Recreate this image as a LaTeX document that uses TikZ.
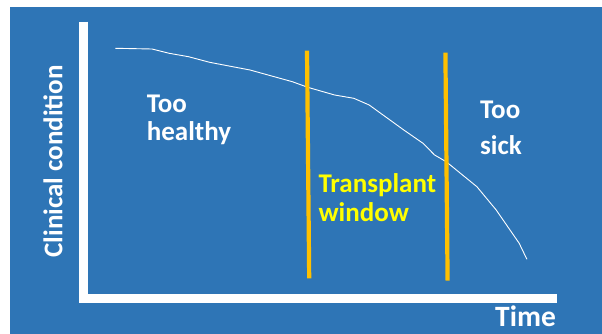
\documentclass[tikz,border=0pt]{standalone}
\usepackage{fontspec}
\setmainfont{Carlito}
\usepackage{xcolor}
\usepackage{tikz}
\usetikzlibrary{calc, positioning}
\definecolor{slide}{HTML}{2E75B6}
\definecolor{gold}{HTML}{FFC000}
\definecolor{lemon}{HTML}{FFFF00}

\tikzset{
  label text/.style={font=\fontsize{27}{28.3}\selectfont\bfseries, white,
    inner sep=0pt, align=left},
  window line/.style={gold, line width=4.2pt},
}

\begin{document}
\begin{tikzpicture}[x=1pt, y=-1pt]
      \useasboundingbox (0,0) rectangle (602,334);
      \fill[white] (0,0) rectangle (602,334);
      \fill[slide] (10,7.3) rectangle (602,334);

      % axes
      \draw[white, line width=8.8pt, line join=miter]
        (83.6,21.7) -- (83.6,298.5) -- (557,298.5);

      % condition curve
      \draw[white, line width=0.9pt, line join=round] plot coordinates {
        (115.4,48.3) (151.9,49) (169.2,53.3) (188.5,56.7) (209.6,62.3)
        (250,70) (292.3,81.7) (307.7,87.3) (334.6,95) (353.8,98.3)
        (369.2,105) (403.8,130) (423,143.3) (434.6,155) (446.2,161.7)
        (476.9,186.7) (496.2,210) (519.2,243.3) (526.9,259.3)};

      % transplant window
      \draw[window line] (307,50.7) -- (309.2,278.3);
      \draw[window line] (445.4,52.7) -- (447.6,280.7);

      % last line sits on the anchor
      \node[label text, anchor=base west] (healthy) at (146.7,140.3)
        {Too\\healthy};
      \node[label text, anchor=base west] (sick) at (480,154.3)
        {Too\\[7.7pt]sick};
      \node[label text, lemon, anchor=base west] (window) at (318.3,221.2)
        {Transplant\\window};

      \node[label text, rotate=90, anchor=base] (ylab) at (62.3,161.5)
        {Clinical condition};
      \node[label text, font=\fontsize{29.5}{30}\selectfont\bfseries,
        anchor=base west] (xlab) at (495,326.7) {Time};
    \end{tikzpicture}
\end{document}
